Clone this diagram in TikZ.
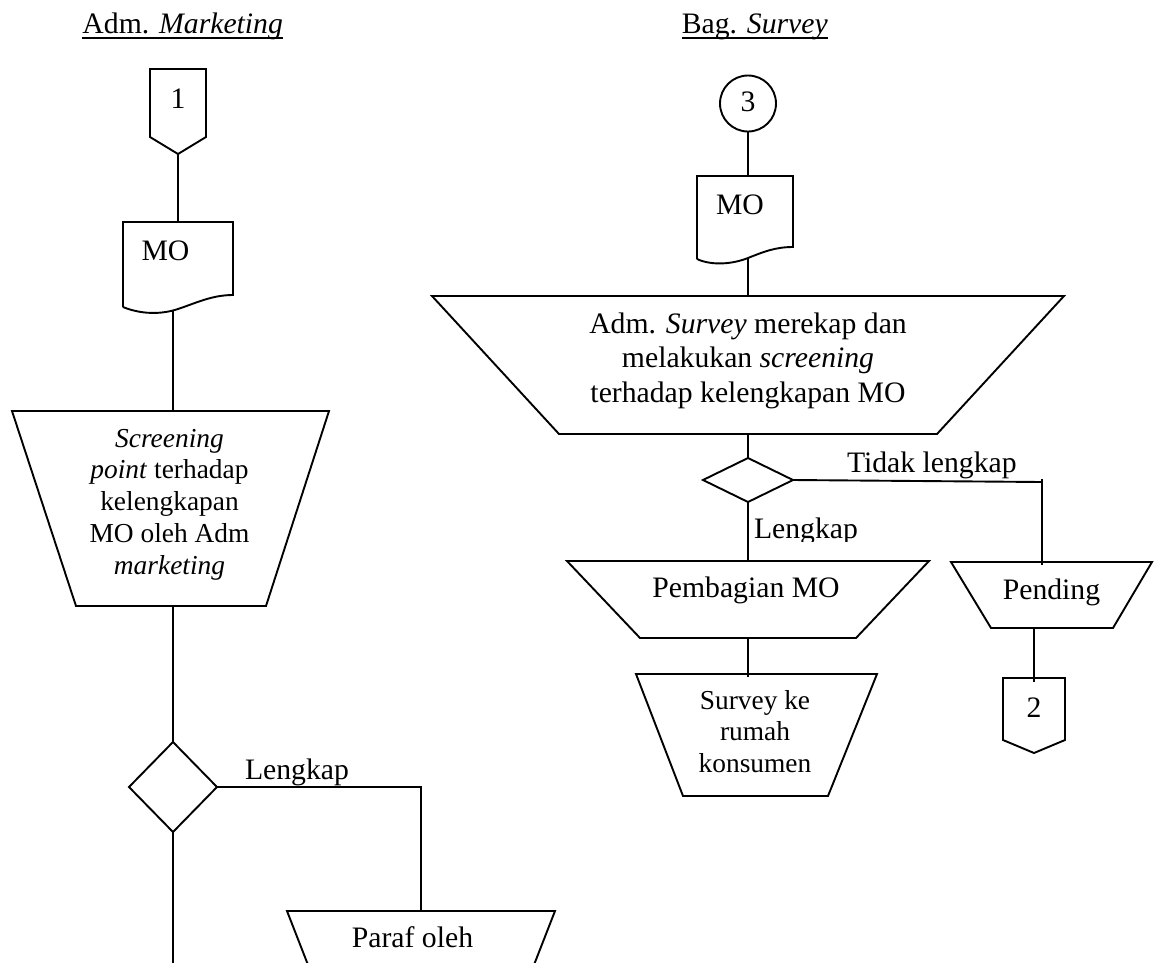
\documentclass[tikz,border=0pt]{standalone}
\usepackage{fontspec}
\setmainfont{Liberation Serif}
\usetikzlibrary{shapes.geometric,calc}
% place text: #1 = horizontal shift, #2 = baseline offset from node centre, #3 = text
\newcommand\txt[3]{\raisebox{#2}[0pt][0pt]{\makebox[0pt]{\hspace*{#1}\hspace*{#1}#3}}}
\newcommand\lns[1]{\begin{tabular}[t]{@{}c@{}}#1\end{tabular}}
\begin{document}
\begin{tikzpicture}[x=1pt,y=-1pt,line width=1.9pt,
  every node/.style={inner sep=0pt,outer sep=0pt},
  big/.style={font=\fontsize{29.7}{34.5}\selectfont},
  small/.style={font=\fontsize{27.4}{31.75}\selectfont},
  frame/.style={rectangle,draw=none},
  decision/.style={diamond,draw,line width=1.9pt}]
\useasboundingbox (0,0) rectangle (1157,962);
\clip (0,0) rectangle (1157,962);

% ---------------- headers ----------------
\node[big,anchor=base] (hL) at (182.7,33) {Adm. \textit{Marketing}};
\node[big,anchor=base] (hR) at (754.8,33) {Bag. \textit{Survey}};
\draw ([yshift=-5.3pt]hL.base west) -- ([yshift=-5.3pt]hL.base east);
\draw ([yshift=-5.3pt]hR.base west) -- ([yshift=-5.3pt]hR.base east);

% ---------------- left column ----------------
\node[frame,big,minimum width=56pt,minimum height=68pt] (c1) at (178,103) {\txt{0pt}{-5pt}{1}};
\draw (c1.north west) -- (c1.north east) -- (c1.south east) -- ($(c1.south)+(0,17)$) -- (c1.south west) -- cycle;

\node[frame,big,minimum width=110pt,minimum height=73pt] (d1) at (178,258.5) {\txt{-12.5pt}{-1.5pt}{MO}};
\draw (123,307) -- (123,222) -- (233,222) -- (233,295)
  .. controls (212,295) and (196,303) .. (178,309)
  .. controls (160,315) and (140,314) .. (123,307);

\node[frame,small,minimum width=317pt,minimum height=195pt] (t1) at (170.5,508.5)
  {\txt{-1pt}{61.5pt}{\lns{\textit{Screening}\\ \textit{point} terhadap\\ kelengkapan\\ MO oleh Adm\\ \textit{marketing}}}};
\draw (12,411) -- (329,411) -- (266,606) -- (76,606) -- cycle;

\node[decision,minimum width=88pt,minimum height=90pt] (dm1) at (173,787) {};
\node[big,anchor=base west] (lk1) at (245,779) {Lengkap};

\node[frame,big,minimum width=268pt,minimum height=100pt] (p1) at (421,961) {\txt{-8.5pt}{14pt}{Paraf oleh}};
\draw (p1.north west) -- (p1.north east) -- ($(p1.south east)+(-39,0)$) -- ($(p1.south west)+(39,0)$) -- cycle;

\coordinate (bot1) at (173,975);
\coordinate (d1out) at (173,310);

% connectors left
\draw ($(c1.south)+(0,17)$) -- (d1.north);
\draw (d1out) -- (d1out |- t1.north);
\draw (t1.south -| dm1.north) -- (dm1.north);
\draw (dm1.east) -| (p1.north);
\draw (dm1.south) -- (bot1);

% ---------------- right column ----------------
\node[circle,draw,big,minimum size=56pt] (c3) at (748,103.5) {\txt{0pt}{-8pt}{3}};

\node[frame,big,minimum width=96pt,minimum height=71pt] (d2) at (745,211.5) {\txt{-5pt}{-2.5pt}{MO}};
\draw (697,259) -- (697,176) -- (793,176) -- (793,247)
  .. controls (775,247) and (763,252) .. (748,258)
  .. controls (733,264) and (712,266) .. (697,259);

\node[frame,big,minimum width=632pt,minimum height=138pt] (t2) at (748,365)
  {\txt{0pt}{32pt}{\lns{Adm. \textit{Survey} merekap dan\\ melakukan \textit{screening}\\ terhadap kelengkapan MO}}};
\draw (432,296) -- (1064,296) -- (937,434) -- (559,434) -- cycle;

\node[decision,minimum width=90pt,minimum height=44pt] (dm2) at (748,480) {};
\node[big,anchor=base west] (tl) at (847,472) {Tidak lengkap};
\begin{scope}
  \clip (740,500) rectangle (880,541.5);
  \node[big,anchor=base west] (lk2) at (754,538) {Lengkap};
\end{scope}

\node[frame,big,minimum width=362pt,minimum height=77pt] (p2) at (748,599.5) {\txt{-2pt}{2.5pt}{Pembagian MO}};
\draw (567,561) -- (929,561) -- (856,638) -- (640,638) -- cycle;

\node[frame,small,minimum width=241pt,minimum height=122pt] (s2) at (756.5,735)
  {\txt{-1.5pt}{26pt}{\lns{Survey ke\\ rumah\\ konsumen}}};
\draw (636,674) -- (877,674) -- (828,796) -- (683,796) -- cycle;

\node[frame,big,minimum width=201pt,minimum height=66pt] (pd) at (1051.5,595) {\txt{0pt}{-4pt}{Pending}};
\draw (951,562) -- (1152,562) -- (1113,628) -- (991,628) -- cycle;

\node[frame,big,minimum width=62pt,minimum height=62pt] (c2) at (1034,709) {\txt{0pt}{-8pt}{2}};
\draw (c2.north west) -- (c2.north east) -- (c2.south east) -- ($(c2.south)+(0,13)$) -- (c2.south west) -- cycle;

\coordinate (tj) at (1042,482);

% connectors right
\draw (c3.south) -- (c3.south |- d2.north);
\draw ($(d2.south)+(3,11)$) -- (t2.north);
\draw (t2.south) -- (dm2.north);
\draw (dm2.east) -- (tj);
\draw ($(tj)+(0,-3)$) -- ($(tj |- pd.north)+(0,3)$);
\draw (dm2.south) -- (p2.north);
\draw (p2.south) -- ($(p2.south |- s2.north)+(0,3)$);
\draw (pd.south -| c2.north) -- ($(c2.north)+(0,4)$);
\end{tikzpicture}
\end{document}
